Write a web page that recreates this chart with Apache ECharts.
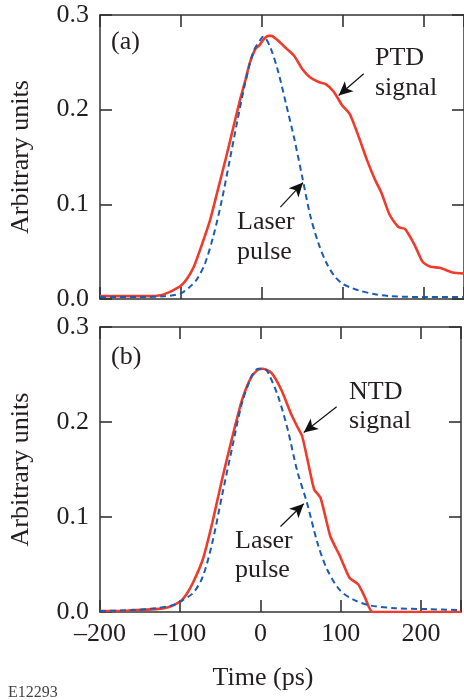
<!DOCTYPE html>
<html>
<head>
<meta charset="utf-8">
<script src="https://cdn.jsdelivr.net/npm/echarts@6/dist/echarts.min.js"></script>
<style>
  html, body { margin: 0; padding: 0; background: #fff; }
  #chart { width: 464px; height: 700px; }
</style>
</head>
<body>
<div id="chart"></div>
<script>
// panel (a): PTD signal and laser pulse
const ptdTime = [-200, -170, -140, -125, -115, -108, -100, -92, -84, -75, -64, -55, -44, -35, -27, -20, -15, -8, -3, 2, 8, 12, 20, 30, 40, 50, 60, 71, 79, 89, 99, 109, 120, 130, 140, 148, 158, 169, 177, 189, 199, 209, 220, 236, 250]
const ptdSignal = [0.003, 0.003, 0.003, 0.004, 0.007, 0.010, 0.014, 0.022, 0.034, 0.055, 0.083, 0.113, 0.150, 0.182, 0.210, 0.232, 0.249, 0.264, 0.268, 0.274, 0.278, 0.278, 0.273, 0.265, 0.257, 0.243, 0.234, 0.229, 0.227, 0.219, 0.205, 0.195, 0.171, 0.147, 0.126, 0.112, 0.089, 0.076, 0.074, 0.057, 0.039, 0.034, 0.033, 0.028, 0.027]

const laserATime = [-200, -150, -120, -110, -100, -90, -80, -70, -60, -50, -40, -30, -20, -10, 0, 2, 10, 20, 30, 40, 50, 60, 70, 80, 90, 100, 110, 120, 140, 160, 200, 250]
const laserA = [0.002, 0.002, 0.003, 0.004, 0.006, 0.012, 0.021, 0.038, 0.066, 0.102, 0.145, 0.189, 0.230, 0.262, 0.276, 0.277, 0.267, 0.241, 0.206, 0.170, 0.129, 0.088, 0.059, 0.038, 0.024, 0.016, 0.012, 0.009, 0.005, 0.003, 0.002, 0.002]

// panel (b): NTD signal and laser pulse
const ntdTime = [-200, -170, -160, -130, -115, -100, -92, -84, -72, -60, -48, -36, -23, -11, -3, 3, 13.5, 26, 38, 46, 52, 60, 67, 75, 87, 99, 111, 122, 130, 140, 250]
const ntdSignal = [0.001, 0.001, 0.002, 0.003, 0.005, 0.011, 0.019, 0.031, 0.055, 0.094, 0.139, 0.181, 0.223, 0.248, 0.255, 0.256, 0.252, 0.234, 0.209, 0.195, 0.185, 0.155, 0.129, 0.120, 0.080, 0.059, 0.036, 0.029, 0.016, 0.000, 0.000]

const laserBTime = [-200, -160, -130, -110, -100, -84, -72, -60, -48, -35, -23, -11, -3, 5, 9.5, 22, 34, 46, 58, 71, 83, 99, 116, 136, 168, 209, 250]
const laserB = [0.001, 0.002, 0.004, 0.007, 0.011, 0.020, 0.037, 0.073, 0.122, 0.174, 0.220, 0.248, 0.256, 0.256, 0.252, 0.227, 0.192, 0.148, 0.115, 0.073, 0.045, 0.023, 0.013, 0.007, 0.004, 0.003, 0.002]

const xTicks = [-200, -100, 0, 100, 200]
const yTicks = [0.0, 0.1, 0.2, 0.3]

// arrows: [from, to] in data units
const ptdArrow = [[126, 0.238], [95, 0.215]]
const laserArrowA = [[23, 0.097], [51, 0.123]]
const ntdArrow = [[95, 0.216], [54, 0.189]]
const laserArrowB = [[25, 0.090], [54, 0.114]]

const SERIF = "'Liberation Serif', 'Times New Roman', serif"
const INK = '#231f20'
const FRAME = '#333333'
const RED = '#ee3b2c'
const BLUE = '#1b5cb0'

const zip = (xs, ys) => xs.map((x, i) => [x, ys[i]])

function xAxisFor(gridIndex, pos, showLabels) {
  return {
    type: 'value', gridIndex, position: pos,
    min: xTicks[0], max: 250, interval: 100,
    axisLine: { show: true, onZero: false, lineStyle: { color: FRAME, width: 1.5 } },
    axisTick: { show: true, inside: true, length: 12, lineStyle: { color: FRAME, width: 1.6 } },
    axisLabel: {
      show: showLabels, margin: 9, color: INK, fontFamily: SERIF, fontSize: 26,
      formatter: v => (v > 200 ? '' : String(v).replace('-', '\u2013'))
    },
    splitLine: { show: false }
  }
}

function yAxisFor(gridIndex, pos, showLabels) {
  return {
    type: 'value', gridIndex, position: pos,
    min: 0, max: yTicks[yTicks.length - 1], interval: 0.1,
    name: showLabels ? 'Arbitrary units' : '',
    nameLocation: 'middle', nameGap: 66, nameRotate: 90,
    nameTextStyle: { color: INK, fontFamily: SERIF, fontSize: 26 },
    axisLine: { show: true, onZero: false, lineStyle: { color: FRAME, width: 1.5 } },
    axisTick: { show: true, inside: true, length: 12, lineStyle: { color: FRAME, width: 1.6 } },
    axisLabel: {
      show: showLabels, margin: 11, color: INK, fontFamily: SERIF, fontSize: 26,
      formatter: v => v.toFixed(1)
    },
    splitLine: { show: false }
  }
}

function arrow(pair) {
  return [{ coord: pair[0] }, { coord: pair[1] }]
}

function signalSeries(axis, data, arrows) {
  return {
    type: 'line', xAxisIndex: axis, yAxisIndex: axis,
    data, showSymbol: false, smooth: 0.2,
    lineStyle: { color: RED, width: 2.6 },
    markLine: {
      silent: true, symbol: ['none', 'arrow'], symbolSize: [10, 14],
      label: { show: false },
      lineStyle: { color: '#111', width: 1.2, type: 'solid' },
      data: arrows.map(arrow)
    }
  }
}

function laserSeries(axis, data) {
  return {
    type: 'line', xAxisIndex: axis, yAxisIndex: axis,
    data, showSymbol: false, smooth: 0.3,
    lineStyle: { color: BLUE, width: 2, type: [6, 4] }
  }
}

const chart = echarts.init(document.getElementById('chart'))

chart.setOption({
  animation: false,
  grid: [
    { left: 99, top: 15, width: 367, height: 284 },
    { left: 99, top: 327, width: 367, height: 285 }
  ],
  xAxis: [
    xAxisFor(0, 'bottom', false),
    xAxisFor(0, 'top', false),
    xAxisFor(1, 'bottom', true),
    xAxisFor(1, 'top', false)
  ],
  yAxis: [
    yAxisFor(0, 'left', true),
    yAxisFor(0, 'right', false),
    yAxisFor(1, 'left', true),
    yAxisFor(1, 'right', false)
  ],
  series: [
    signalSeries(0, zip(ptdTime, ptdSignal), [ptdArrow, laserArrowA]),
    laserSeries(0, zip(laserATime, laserA)),
    signalSeries(2, zip(ntdTime, ntdSignal), [ntdArrow, laserArrowB]),
    laserSeries(2, zip(laserBTime, laserB))
  ],
  graphic: [
    { type: 'text', left: 111, top: 29, style: { text: '(a)', font: `26px ${SERIF}`, fill: INK } },
    { type: 'text', left: 375, top: 43, style: { text: 'PTD\nsignal', font: `26px ${SERIF}`, lineHeight: 30, fill: INK } },
    { type: 'text', left: 237, top: 207, style: { text: 'Laser\npulse', font: `26px ${SERIF}`, lineHeight: 30, fill: INK } },
    { type: 'text', left: 111, top: 344, style: { text: '(b)', font: `26px ${SERIF}`, fill: INK } },
    { type: 'text', left: 349, top: 378, style: { text: 'NTD\nsignal', font: `26px ${SERIF}`, lineHeight: 29, fill: INK } },
    { type: 'text', left: 235, top: 527, style: { text: 'Laser\npulse', font: `26px ${SERIF}`, lineHeight: 29, fill: INK } },
    { type: 'text', x: 263, y: 678, style: { text: 'Time (ps)', font: `26px ${SERIF}`, fill: INK, align: 'center', verticalAlign: 'middle' } },
    { type: 'text', left: 8, top: 685, style: { text: 'E12293', font: `16px ${SERIF}`, fill: '#444' } }
  ]
})
</script>
</body>
</html>
